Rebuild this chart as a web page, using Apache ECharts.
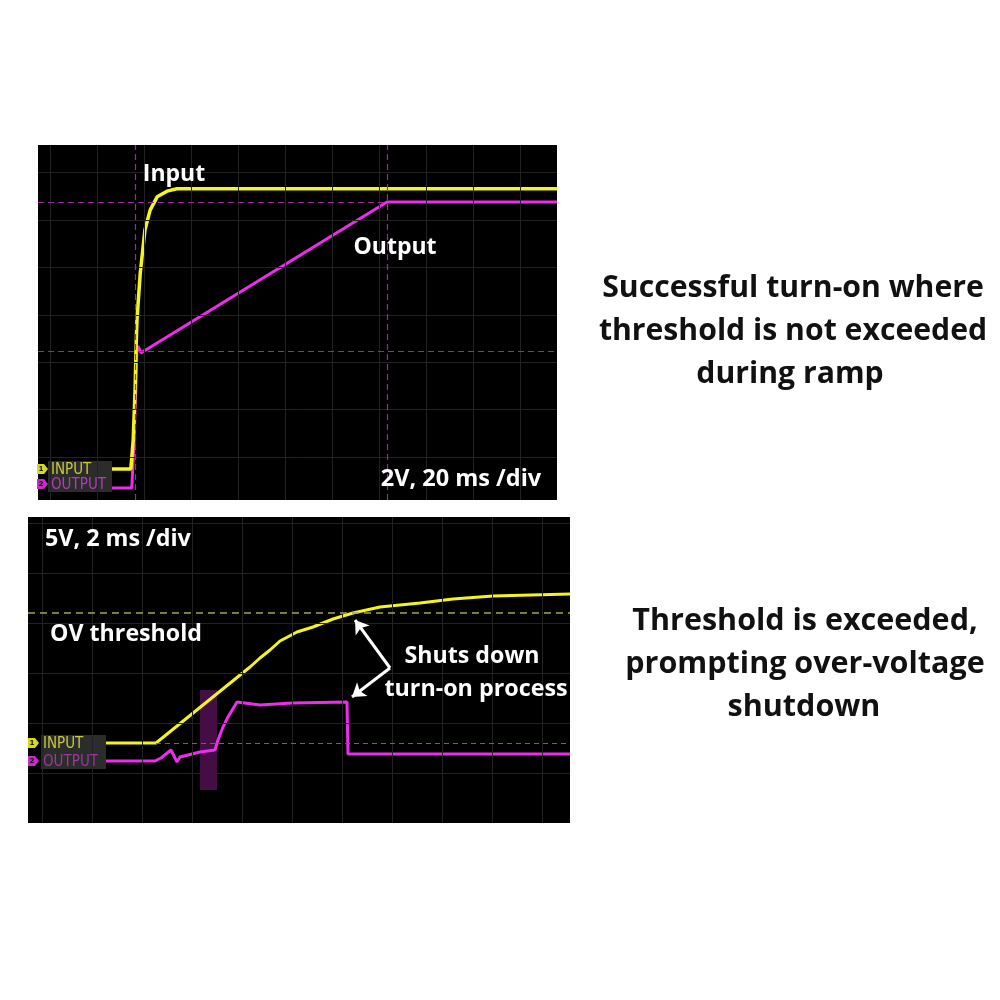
<!DOCTYPE html>
<html>
<head>
<meta charset="utf-8">
<script src="https://cdn.jsdelivr.net/npm/echarts@6/dist/echarts.min.js"></script>
<style>
html,body{margin:0;padding:0;background:#fff;}
#c{width:1000px;height:1000px;}
</style>
</head>
<body>
<div id="c"></div>
<script>
// ---- Data (units: oscilloscope divisions) ----
// Top capture: 2V, 20 ms /div
const topGridX = [0,1,2,3,4,5,6,7,8,9,10];
const topGridY = [1,2,3,4,5,6,7];
const topInput = [[0.92,0.75],[1.72,0.75],[1.77,1.36],[1.81,2.42],[1.83,3.26],[1.85,3.89],[1.92,4.88],[2.02,5.79],[2.13,6.21],[2.28,6.49],[2.49,6.61],[2.70,6.66],[10.79,6.66]];
const topOutput = [[1.32,0.35],[1.74,0.35],[1.79,1.36],[1.83,2.63],[1.85,3.26],[1.87,3.34],[1.94,3.20],[7.17,6.38],[10.79,6.38]];
const topCursorY = [6.38, 3.24];
const topCursorX = [1.81, 7.17];

// Bottom capture: 5V, 2 ms /div
const botGridX = [0,1,2,3,4,5,6,7,8,9,10];
const botGridY = [1,2,3,4,5,6];
const botInput = [[0.92,1.60],[2.28,1.60],[4.16,3.12],[4.36,3.30],[4.56,3.46],[4.76,3.64],[5.10,3.82],[5.42,3.92],[5.82,4.08],[6.22,4.20],[6.76,4.32],[7.56,4.40],[8.22,4.48],[9.02,4.54],[10.56,4.58]];
const botOutput = [[1.28,1.24],[2.26,1.24],[2.38,1.30],[2.58,1.46],[2.66,1.30],[2.70,1.22],[2.76,1.32],[3.00,1.38],[3.16,1.42],[3.46,1.46],[3.52,1.66],[3.62,1.92],[3.72,2.12],[3.90,2.42],[4.36,2.36],[5.00,2.40],[6.10,2.42],[6.12,1.38],[10.56,1.38]];
const ovThreshold = 4.20;
const botGroundRef = 1.60;
const glitchBand = [[3.16,0.66],[3.50,2.66]];
const arrowVertex = [6.96,3.10];
const arrowTips = [[6.26,4.06],[6.20,2.52]];

// ---- Chart ----
const chart = echarts.init(document.getElementById('c'), null, {renderer:'canvas'});
const F = '"Open Sans", "Noto Sans", sans-serif';
const YEL = '#f5f51a', MAG = '#ee2cee', GRIDC = '#222222';
const NARROW = '15px "Liberation Sans Narrow", "DejaVu Sans Condensed", sans-serif';

function gridSeries(idx, xs, ys){
  return {type:'line', xAxisIndex:idx, yAxisIndex:idx, data:[], silent:true, z:1, symbol:'none',
    markLine:{silent:true, symbol:'none', animation:false, label:{show:false},
      lineStyle:{color:GRIDC, width:1, type:'solid'},
      data:[...xs.map(v=>({xAxis:v})), ...ys.map(v=>({yAxis:v}))]}};
}
function txt(x, y, t, size, color, align){
  return {type:'text', x:x, y:y, z:8, style:{text:t, fill:color, font:'bold '+size+'px '+F, align:align||'center', verticalAlign:'middle'}};
}

const option = {
  animation:false,
  backgroundColor:'#ffffff',
  grid:[
    {left:38, top:145, width:519, height:355, show:true, backgroundColor:'#000', borderWidth:0},
    {left:28, top:517, width:542, height:306, show:true, backgroundColor:'#000', borderWidth:0}
  ],
  xAxis:[
    {type:'value', gridIndex:0, min:-0.2553, max:10.787, show:false},
    {type:'value', gridIndex:1, min:-0.28, max:10.56, show:false}
  ],
  yAxis:[
    {type:'value', gridIndex:0, min:0.095, max:7.584, show:false},
    {type:'value', gridIndex:1, min:0, max:6.12, show:false}
  ],
  series:[
    gridSeries(0, topGridX, topGridY),
    gridSeries(1, botGridX, botGridY),
    // top cursors
    {type:'line', xAxisIndex:0, yAxisIndex:0, data:[], silent:true, z:2,
      markLine:{silent:true, symbol:'none', label:{show:false},
        lineStyle:{color:'#9a2a9a', width:1.2, type:[6,4]},
        data:[
          [{coord:[-0.2553, topCursorY[0]]},{coord:[topCursorX[1], topCursorY[0]]}],
          {yAxis:topCursorY[1]},
          {xAxis:topCursorX[0]},
          {xAxis:topCursorX[1]}
        ]}},
    {name:'Input', type:'line', xAxisIndex:0, yAxisIndex:0, data:topInput, symbol:'none', z:4,
      lineStyle:{color:YEL, width:3.5}},
    {name:'Output', type:'line', xAxisIndex:0, yAxisIndex:0, data:topOutput, symbol:'none', z:3,
      lineStyle:{color:MAG, width:3}},
    // bottom reference lines
    {type:'line', xAxisIndex:1, yAxisIndex:1, data:[], silent:true, z:2,
      markLine:{silent:true, symbol:'none', label:{show:false},
        data:[
          {yAxis:ovThreshold, lineStyle:{color:'#a6a655', width:1.5, type:[7,5]}},
          [{coord:[botInput[1][0], botGroundRef], lineStyle:{color:'#6e6e3a', width:1.2, type:[5,4]}},{coord:[10.56, botGroundRef]}]
        ]}},
    {name:'Output', type:'line', xAxisIndex:1, yAxisIndex:1, data:botOutput, symbol:'none', z:3,
      lineStyle:{color:MAG, width:3},
      markArea:{silent:true, itemStyle:{color:'rgba(150,30,150,0.45)'},
        data:[[{coord:glitchBand[0]},{coord:glitchBand[1]}]]}},
    {name:'Input', type:'line', xAxisIndex:1, yAxisIndex:1, data:botInput, symbol:'none', z:4,
      lineStyle:{color:YEL, width:3},
      markLine:{silent:true, symbol:['none','arrow'], symbolSize:[13,13], label:{show:false},
        lineStyle:{color:'#ffffff', width:3, type:'solid'},
        data:[
          [{coord:arrowVertex},{coord:arrowTips[0]}],
          [{coord:arrowVertex},{coord:arrowTips[1]}]
        ]}}
  ],
  graphic:[
    // channel label boxes
    {type:'rect', shape:{x:48,y:461,width:64,height:31}, style:{fill:'#2c2c2c'}, z:5},
    {type:'rect', shape:{x:41,y:735,width:65,height:34}, style:{fill:'#2c2c2c'}, z:5},
    // top markers
    {type:'polygon', shape:{points:[[37,464],[44,464],[48,469],[44,474],[37,474]]}, style:{fill:'#d8d820'}, z:6},
    {type:'text', x:41, y:469, style:{text:'1', fill:'#000', font:'bold 8px sans-serif', align:'center', verticalAlign:'middle'}, z:7},
    {type:'text', x:51, y:470, style:{text:'INPUT', fill:'#c8c83a', font:NARROW, verticalAlign:'middle'}, z:7},
    {type:'polygon', shape:{points:[[37,479],[44,479],[48,484],[44,489],[37,489]]}, style:{fill:'#c62cc6'}, z:6},
    {type:'text', x:41, y:484, style:{text:'2', fill:'#000', font:'bold 8px sans-serif', align:'center', verticalAlign:'middle'}, z:7},
    {type:'text', x:51, y:485, style:{text:'OUTPUT', fill:'#b43cb4', font:NARROW, verticalAlign:'middle'}, z:7},
    // bottom markers
    {type:'polygon', shape:{points:[[28,738],[35,738],[39,743],[35,748],[28,748]]}, style:{fill:'#d8d820'}, z:6},
    {type:'text', x:32, y:743, style:{text:'1', fill:'#000', font:'bold 8px sans-serif', align:'center', verticalAlign:'middle'}, z:7},
    {type:'text', x:43, y:744, style:{text:'INPUT', fill:'#c8c83a', font:NARROW, verticalAlign:'middle'}, z:7},
    {type:'polygon', shape:{points:[[28,756],[35,756],[39,761],[35,766],[28,766]]}, style:{fill:'#c62cc6'}, z:6},
    {type:'text', x:32, y:761, style:{text:'2', fill:'#000', font:'bold 8px sans-serif', align:'center', verticalAlign:'middle'}, z:7},
    {type:'text', x:43, y:762, style:{text:'OUTPUT', fill:'#9a3a9a', font:NARROW, verticalAlign:'middle'}, z:7},
    // panel annotations
    txt(174, 174, 'Input', 23, '#fff'),
    txt(395, 247, 'Output', 23, '#fff'),
    txt(461, 479, '2V, 20 ms /div', 23.5, '#fff'),
    txt(45, 539, '5V, 2 ms /div', 23.3, '#fff', 'left'),
    txt(50, 634, 'OV threshold', 23.2, '#fff', 'left'),
    txt(472, 656, 'Shuts down', 23.2, '#fff'),
    txt(476, 689, 'turn-on process', 23.3, '#fff'),
    // right side descriptions
    txt(793, 288, 'Successful turn-on where', 30.2, '#111'),
    txt(793, 331, 'threshold is not exceeded', 30.2, '#111'),
    txt(790, 374, 'during ramp', 30.2, '#111'),
    txt(805, 621, 'Threshold is exceeded,', 30.5, '#111'),
    txt(805, 664, 'prompting over-voltage', 30.5, '#111'),
    txt(804, 707, 'shutdown', 30.5, '#111')
  ]
};
chart.setOption(option);
</script>
</body>
</html>
